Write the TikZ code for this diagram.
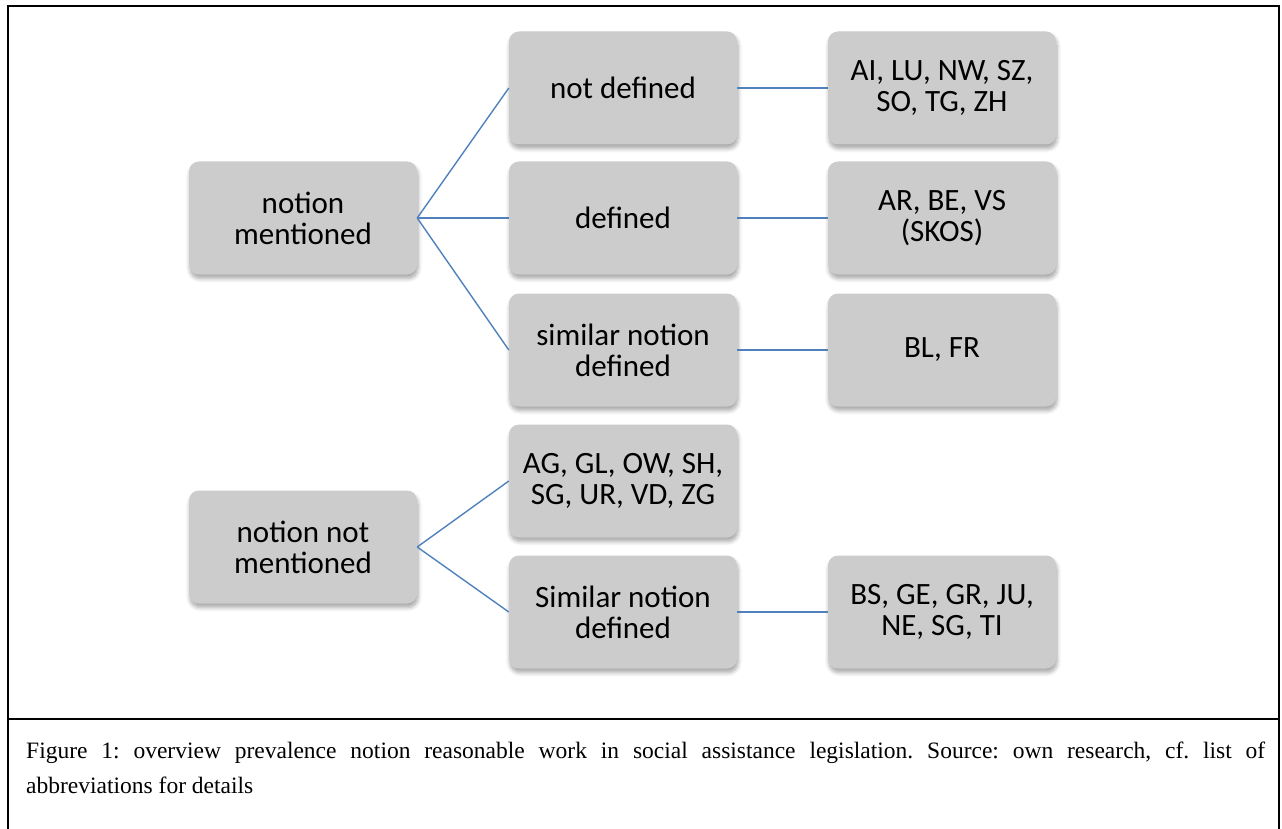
\documentclass[tikz,border=0pt]{standalone}
\usepackage{fontspec}
\setmainfont{Liberation Serif}
\newfontfamily\boxfont{Carlito}
\usetikzlibrary{shadows.blur}
\definecolor{boxgray}{RGB}{204,204,204}
\definecolor{linkblue}{RGB}{79,129,189}
\tikzset{
  item/.style={draw=none, fill=boxgray, rounded corners=10pt, minimum width=228pt, minimum height=113pt,
    align=center, font=\boxfont\fontsize{31}{31}\selectfont, inner sep=0pt,
    blur shadow={shadow xshift=1pt, shadow yshift=-4pt, shadow blur radius=4pt, shadow blur steps=6, shadow opacity=35}},
  link/.style={draw=linkblue, line width=1.4pt},
  frameline/.style={draw=black, line width=2pt}
}
\begin{document}
\begin{tikzpicture}[x=1pt, y=-1pt]
\useasboundingbox (0,0) rectangle (1282,829);
\draw[frameline] (8,835) -- (8,6) -- (1279,6) -- (1279,835);
\draw[frameline] (8,719) -- (1279,719);

\node[item] (L1) at (303,218) {notion\\mentioned};
\node[item] (L2) at (303,547) {notion not\\mentioned};
\node[item] (M1) at (623,88) {not defined};
\node[item] (M2) at (623,218) {defined};
\node[item] (M3) at (623,350) {similar notion\\defined};
\node[item] (M4) at (623,481) {AG, GL, OW, SH,\\SG, UR, VD, ZG};
\node[item] (M5) at (623,612) {Similar notion\\defined};
\node[item] (R1) at (942,88) {AI, LU, NW, SZ,\\SO, TG, ZH};
\node[item] (R2) at (942,218) {AR, BE, VS\\(SKOS)};
\node[item] (R3) at (942,350) {BL, FR};
\node[item] (R5) at (942,612) {BS, GE, GR, JU,\\NE, SG, TI};

\draw[link] (L1.east) -- (M1.west);
\draw[link] (L1.east) -- (M2.west);
\draw[link] (L1.east) -- (M3.west);
\draw[link] (L2.east) -- (M4.west);
\draw[link] (L2.east) -- (M5.west);
\draw[link] (M1.east) -- (R1.west);
\draw[link] (M2.east) -- (R2.west);
\draw[link] (M3.east) -- (R3.west);
\draw[link] (M5.east) -- (R5.west);

\node[anchor=north west, inner sep=0pt, text width=1239pt, align=justify,
  font=\fontsize{23.5}{35}\selectfont\frenchspacing] (cap) at (26,742)
  {Figure 1: overview prevalence notion reasonable work in social assistance legislation. Source: own research, cf. list of\linebreak abbreviations for details};
\end{tikzpicture}
\end{document}
